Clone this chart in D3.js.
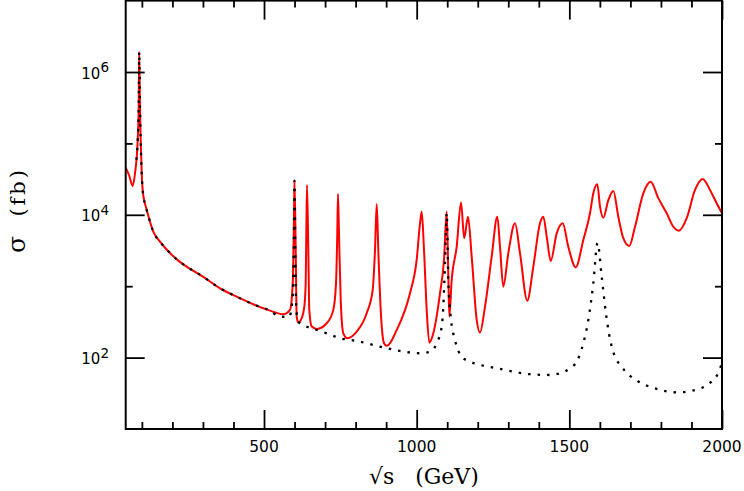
<!DOCTYPE html>
<html><head><meta charset="utf-8">
<script src="https://cdn.jsdelivr.net/npm/d3@7"></script>
<style>body{margin:0;background:#fff}svg{display:block}</style>
</head><body><svg id="c" width="744" height="491"></svg>
<script>
// ---- data (sqrt(s) in GeV, sigma in fb) ----
const redX = [47,57.8,69.9,77.5,86.3,89.6,91.2,93.8,96.1,99.4,
102,106,111.8,115.8,126.6,137.4,159.3,192,219.3,246.8,301.2,355.9,410.5,464.9,519.6,
563.2,585.1,594,598.2,599.8,603.8,607,612.3,623.4,632,
636.5,638.5,640.8,645.1,648.3,656.2,672.6,705.3,727,735.8,
740,742.3,745.6,751.2,759.7,772.8,803.6,836.3,856,863.5,
869.1,874.3,882.2,893,901.8,934.6,978.1,1000,1010.9,1016.5,
1024,1032.8,1041.4,1054.5,1076.4,1089.5,1098.3,1103.6,1106.9,1114.7,
1131.1,1145.2,1155.7,1168.1,1180.2,1196.6,1207.4,1223.8,1245.7,1264.1,
1272.9,1283.7,1300.1,1322,1338.4,1362.3,1382,1403.9,1414.7,1425.9,
1439,1458.6,1478.3,1496.6,1520.9,1545.8,1567.7,1578.5,1591.6,1600.5,
1611.3,1627.7,1644.1,1660.4,1676.8,1696.4,1715.1,1742.3,1766.5,1791.4,
1818.9,1840.5,1859.2,1884.4,1911.6,1936.8,1960.7,1982.6,2000];
const redY = [4.57e4,3.61e4,2.54e4,3.82e4,1.12e5,3.27e5,1.92e6,3.27e5,1.12e5,3.82e4,
2.38e4,1.72e4,1.35e4,1.17e4,8.0e3,5.8e3,4.21e3,2.92e3,2.28e3,1.88e3,1.35e3,935,714,558,455,
405,466,1.10e3,9.4e3,3.0e4,3.22e3,375,309,356,518,
1.10e3,5.5e3,2.62e4,3.22e3,466,272,252,303,466,1.10e3,
5.5e3,1.96e4,5.5e3,643,219,187,231,418,887,3.22e3,
1.42e4,3.22e3,466,159,146,244,796,2.33e3,7.6e3,1.11e4,
3.22e3,466,162,219,796,2.33e3,1.11e4,1.44e3,375,1.22e3,
3.58e3,1.49e4,4.7e3,9.4e3,2.59e3,337,224,518,2.59e3,9.4e3,
3.58e3,986,2.90e3,7.6e3,2.90e3,628,1.88e3,7.6e3,9.4e3,4.94e3,
2.26e3,5.5e3,7.6e3,3.58e3,1.84e3,4.45e3,1.05e4,2.0e4,2.68e4,1.30e4,
9.1e3,1.61e4,2.16e4,9.4e3,4.7e3,3.66e3,6.8e3,2.0e4,2.91e4,1.71e4,
1.05e4,6.8e3,6.0e3,8.95e3,2.23e4,3.18e4,2.23e4,1.45e4,1.05e4];
const dotX = [82.4,86.3,89.6,91.2,93.8,96.1,99.4,102,106,111.8,115.8,126.6,137.4,159.3,
192,219.3,246.8,301.2,355.9,410.5,464.9,519.6,552.4,582,593.3,
597.3,599.8,602.4,604.8,609,617.9,656.9,705.3,748.9,803.6,
856,902.5,945.4,1010.9,1043.6,1065.6,1082,1087.2,1092.8,1098.3,
1103.6,1111.5,1125.5,1147.5,1174.2,1207.4,1262.1,1316.4,1371.2,1436.7,
1469.4,1502.2,1524.2,1545.8,1562.2,1578.5,1592.3,1606,1620.1,1639.8,
1676.7,1723.2,1786.2,1851.7,1905.9,1950.8,1987.8,2000];
const dotY = [5.9e4,1.12e5,3.27e5,1.92e6,3.27e5,1.12e5,3.82e4,2.38e4,1.72e4,1.35e4,1.17e4,8.0e3,5.8e3,4.21e3,
2.92e3,2.28e3,1.88e3,1.35e3,935,714,558,455,375,371,643,
3.22e3,3.0e4,3.22e3,643,360,301,258,219,187,171,
151,135,124,115,121,159,272,518,2.10e3,1.06e4,
1.22e3,375,177,103,87.9,79.1,71.0,63.7,58.5,57.1,
60.4,71.0,87.9,159,337,1.10e3,4.04e3,1.36e3,408,137,
69.5,47.2,36.5,32.6,34.7,41.5,61.1,84.3];

const xMajorTicks = [500,1000,1500,2000];
const xMinorTicks = [100,200,300,400,600,700,800,900,1100,1200,1300,1400,1600,1700,1800,1900];
const xTickLabels = ["500","1000","1500","2000"];
const yMajorTicks = [1e2,1e4,1e6];
const yMinorTicks = [1e3,1e5];
const yTickExps = ["2","4","6"];

// ---- layout ----
const L = 125.7, R = 722, T = 0.6, B = 429;
const svg = d3.select("#c");
const x = d3.scaleLinear().domain([47,2000]).range([L,R]);
const y = d3.scaleLog().domain([10,1e7]).range([B,T]);

svg.append("defs").append("clipPath").attr("id","clip")
  .append("rect").attr("x",L).attr("y",T).attr("width",R-L).attr("height",B-T);

const line = d3.line().x(d=>x(d[0])).y(d=>y(d[1])).curve(d3.curveMonotoneX);
const red = redX.map((v,i)=>[v,redY[i]]);
const dot = dotX.map((v,i)=>[v,dotY[i]]);

const g = svg.append("g").attr("clip-path","url(#clip)");
g.append("path").attr("d",line(red)).attr("fill","none").attr("stroke","#ff0000")
  .attr("stroke-width",2).attr("stroke-linejoin","round");
g.append("path").attr("d",line(dot)).attr("fill","none").attr("stroke","#000")
  .attr("stroke-width",2.3).attr("stroke-dasharray","2.5,7");

// ---- axes ticks ----
function axis(gen, tr, vals, size){
  const a = svg.append("g").attr("transform",tr)
    .call(gen.tickValues(vals).tickSize(-size).tickFormat(""));
  a.select(".domain").remove();
  a.selectAll("line").attr("stroke","#000").attr("stroke-width",1.8);
}
axis(d3.axisBottom(x), `translate(0,${B})`, xMajorTicks, 19);
axis(d3.axisBottom(x), `translate(0,${B})`, xMinorTicks, 7);
axis(d3.axisTop(x), `translate(0,${T})`, xMajorTicks, 19);
axis(d3.axisTop(x), `translate(0,${T})`, xMinorTicks, 7);
axis(d3.axisLeft(y), `translate(${L},0)`, yMajorTicks, 19);
axis(d3.axisLeft(y), `translate(${L},0)`, yMinorTicks, 7);
axis(d3.axisRight(y), `translate(${R},0)`, yMajorTicks, 19);
axis(d3.axisRight(y), `translate(${R},0)`, yMinorTicks, 7);

svg.append("rect").attr("x",L).attr("y",T).attr("width",R-L).attr("height",B-T)
  .attr("fill","none").attr("stroke","#000").attr("stroke-width",2);

// ---- tick labels ----
svg.append("g").selectAll("text").data(xMajorTicks).join("text")
  .attr("x",d=>x(d)).attr("y",B+22.5).attr("text-anchor","middle")
  .attr("font-family","DejaVu Sans").attr("font-size",15.5).attr("fill","#000")
  .text((d,i)=>xTickLabels[i]);

const yl = svg.append("g").selectAll("text").data(yMajorTicks).join("text")
  .attr("x",109).attr("y",d=>y(d)+6.5).attr("text-anchor","end")
  .attr("font-family","DejaVu Sans").attr("font-size",15).attr("fill","#000");
yl.append("tspan").text("10");
yl.append("tspan").attr("dy",-6.5).attr("font-size",13.5).text((d,i)=>yTickExps[i]);

// ---- axis titles ----
svg.append("text").attr("x",(L+R)/2).attr("y",484).attr("text-anchor","middle")
  .attr("font-family","DejaVu Serif").attr("font-size",22).attr("fill","#000")
  .text("\u221As\u00a0\u00a0\u00a0(GeV)");
svg.append("text").attr("transform","translate(25,253) rotate(-90)").attr("text-anchor","start")
  .attr("font-family","DejaVu Serif").attr("font-size",25).attr("fill","#000")
  .text("\u03c3");
svg.append("text").attr("transform","translate(25,167) rotate(-90)").attr("text-anchor","end")
  .attr("font-family","DejaVu Serif").attr("font-size",21).attr("letter-spacing",3).attr("fill","#000")
  .text("(fb)");
</script></body></html>
